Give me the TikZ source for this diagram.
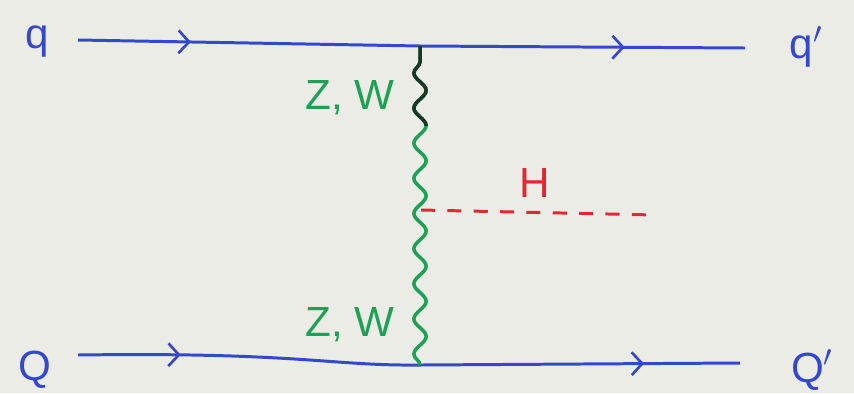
\documentclass[tikz,border=0pt]{standalone}
\usepackage{fontspec}
\setmainfont{Liberation Sans}
\usetikzlibrary{decorations.pathmorphing,decorations.markings,arrows.meta}
\definecolor{bg}{RGB}{236,236,231}
\definecolor{qblue}{RGB}{52,72,205}
\definecolor{bgreen}{RGB}{30,160,85}
\definecolor{dgreen}{RGB}{25,55,35}
\definecolor{hred}{RGB}{225,40,50}
\tikzset{
  quark/.style={draw=qblue, line width=1.7pt},
  midarrow/.style={postaction={decorate, decoration={markings, mark=at position #1 with {\arrow{Straight Barb[length=6pt,width=13pt,line width=1.5pt]}}}}},
  boson/.style={line width=2pt, decorate, decoration={snake, segment length=20pt, amplitude=3.5pt}},
  higgs/.style={draw=hred, line width=1.7pt, dash pattern=on 8pt off 7pt},
  lbl/.style={font=\fontsize{24}{28}\selectfont, inner sep=0pt},
}
\begin{document}
\begin{tikzpicture}[x=0.02cm,y=-0.02cm]
\fill[bg] (0,0) rectangle (854,393);
\useasboundingbox (0,0) rectangle (854,393);
% vertices
\coordinate (q1) at (78,40);
\coordinate (v1) at (420,46);
\coordinate (q2) at (745,48);
\coordinate (Q1) at (78,355);
\coordinate (v2) at (420,365);
\coordinate (Q2) at (740,363);
\coordinate (hv) at (421,210);
\coordinate (hend) at (655,215);
% fermions
\draw[quark, midarrow=0.33] (q1) -- (v1);
\draw[quark, midarrow=0.63] (v1) -- (q2);
\draw[quark, midarrow=0.3] (Q1) .. controls (300,352) and (330,366) .. (v2);
\draw[quark, midarrow=0.7] (v2) -- (Q2);
% boson
\draw[boson, draw=bgreen] (v2) -- (v1);
\begin{scope}
\clip (380,40) rectangle (460,125);
\draw[boson, draw=dgreen] (v2) -- (v1);
\end{scope}
% higgs
\draw[higgs] (hv) -- (hend);
% labels
\node[lbl, text=qblue] (lq) at (37,42) {q};
\node[lbl, text=qblue] (lqp) at (806,47) {q$'$};
\node[lbl, text=qblue] (lQ) at (35,370) {Q};
\node[lbl, text=qblue] (lQp) at (812,370) {Q$'$};
\node[lbl, text=bgreen] (zw1) at (350,98) {Z, W};
\node[lbl, text=bgreen] (zw2) at (350,325) {Z, W};
\node[lbl, text=hred] (lH) at (535,183) {H};
\end{tikzpicture}
\end{document}
